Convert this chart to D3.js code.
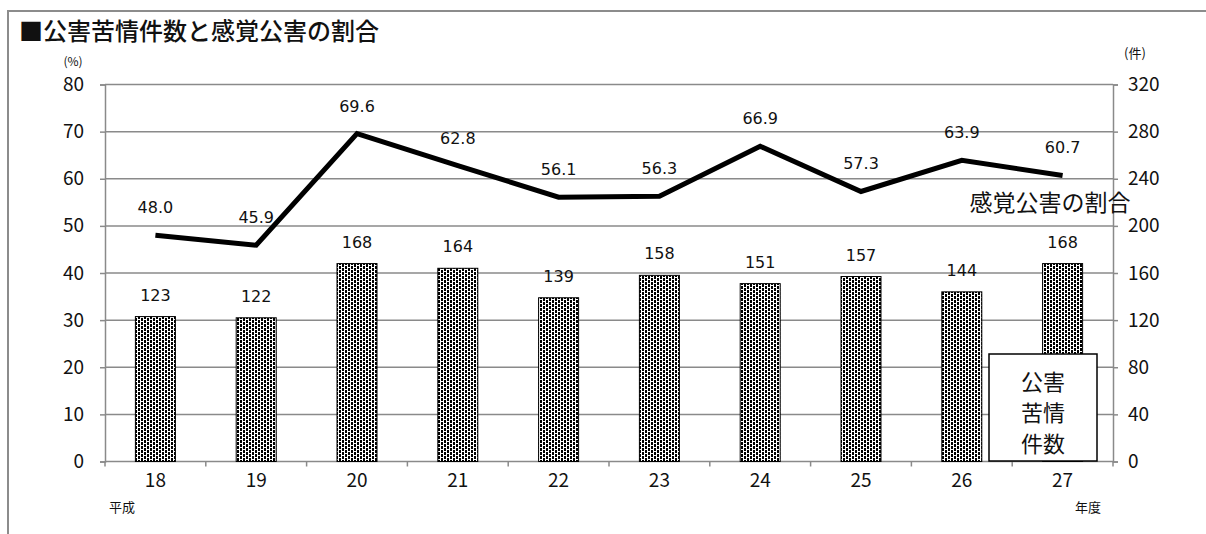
<!DOCTYPE html>
<html lang="ja">
<head>
<meta charset="utf-8">
<script src="https://cdn.jsdelivr.net/npm/d3@7/dist/d3.min.js"></script>
<style>
  html, body { margin: 0; padding: 0; background: #fff; }
  svg { display: block; }
  text { font-family: "Noto Sans CJK JP", "Noto Sans", sans-serif; fill: #111; }
  .num { font-family: "DejaVu Sans", sans-serif; }
</style>
</head>
<body>
<svg id="chart" width="1206" height="534"></svg>
<script>
// 年度（平成）
const years = ["18", "19", "20", "21", "22", "23", "24", "25", "26", "27"];
// 公害苦情件数（件）
const complaints = [123, 122, 168, 164, 139, 158, 151, 157, 144, 168];
// 感覚公害の割合（%）
const sensoryShare = [48.0, 45.9, 69.6, 62.8, 56.1, 56.3, 66.9, 57.3, 63.9, 60.7];
// 軸目盛
const leftTicks = [0, 10, 20, 30, 40, 50, 60, 70, 80];
const rightTicks = [0, 40, 80, 120, 160, 200, 240, 280, 320];

const svg = d3.select("#chart");
const margin = { left: 105, right: 1113, top: 84.5, bottom: 461.5 };
const gridColor = "#8a8a8a";

// outer frame (top and left edges)
svg.append("path")
  .attr("d", "M8,534 V11 H1206")
  .attr("fill", "none")
  .attr("stroke", "#8c8c8c")
  .attr("stroke-width", 2);

// title
svg.append("text")
  .attr("x", 19).attr("y", 40)
  .attr("font-size", 24)
  .attr("font-weight", 500)
  .text("■公害苦情件数と感覚公害の割合");

const x = d3.scaleBand().domain(years).range([margin.left, margin.right]);
const yL = d3.scaleLinear().domain([0, 80]).range([margin.bottom, margin.top]);
const yR = d3.scaleLinear().domain([0, 320]).range([margin.bottom, margin.top]);

// dotted fill for bars: staggered columns of short dashes
const defs = svg.append("defs");
const pat = defs.append("pattern")
  .attr("id", "dots")
  .attr("patternUnits", "userSpaceOnUse")
  .attr("width", 6).attr("height", 4);
pat.append("rect").attr("width", 6).attr("height", 4).attr("fill", "#fff");
pat.append("rect").attr("x", 0).attr("y", 0).attr("width", 2).attr("height", 3).attr("fill", "#000");
pat.append("rect").attr("x", 3).attr("y", 2).attr("width", 2).attr("height", 2).attr("fill", "#000");
pat.append("rect").attr("x", 3).attr("y", 0).attr("width", 2).attr("height", 1).attr("fill", "#000");

// horizontal gridlines
svg.append("g")
  .selectAll("line")
  .data(leftTicks.filter(d => d > 0))
  .join("line")
  .attr("x1", margin.left).attr("x2", margin.right)
  .attr("y1", d => yL(d)).attr("y2", d => yL(d))
  .attr("stroke", gridColor).attr("stroke-width", 1.5);

// left axis
const axL = svg.append("g")
  .attr("transform", `translate(${margin.left},0)`)
  .call(d3.axisLeft(yL).tickValues(leftTicks).tickSize(5).tickPadding(16));
// right axis
const axR = svg.append("g")
  .attr("transform", `translate(${margin.right},0)`)
  .call(d3.axisRight(yR).tickValues(rightTicks).tickSize(5).tickPadding(10));
// bottom axis: ticks on category boundaries
const axB = svg.append("g")
  .attr("transform", `translate(0,${margin.bottom})`)
  .call(d3.axisBottom(x).tickSize(0).tickPadding(12));
axB.append("g")
  .selectAll("line")
  .data(years.map(d => x(d)).concat([margin.right]))
  .join("line")
  .attr("x1", d => d).attr("x2", d => d)
  .attr("y1", 0).attr("y2", 5)
  .attr("stroke", gridColor).attr("stroke-width", 1.5);

[axL, axR, axB].forEach(g => {
  g.select(".domain").attr("stroke", gridColor).attr("stroke-width", 1.5);
  g.selectAll(".tick line").attr("stroke", gridColor).attr("stroke-width", 1.5);
  g.selectAll(".tick text")
    .attr("font-family", "\"DejaVu Sans\", sans-serif")
    .attr("font-size", 19).attr("fill", "#111");
});
axB.select(".domain").attr("d", `M${margin.left},0H${margin.right}`);

// bars
const barW = 40;
svg.append("g")
  .selectAll("rect")
  .data(complaints)
  .join("rect")
  .attr("x", (d, i) => x(years[i]) + x.bandwidth() / 2 - barW / 2)
  .attr("y", d => yR(d))
  .attr("width", barW)
  .attr("height", d => yR(0) - yR(d))
  .attr("fill", "url(#dots)")
  .attr("stroke", "#000").attr("stroke-width", 1);

// bar value labels
svg.append("g")
  .selectAll("text")
  .data(complaints)
  .join("text")
  .attr("class", "num")
  .attr("x", (d, i) => x(years[i]) + x.bandwidth() / 2)
  .attr("y", d => yR(d) - 16)
  .attr("text-anchor", "middle")
  .attr("font-size", 16)
  .text(d => d);

// share line
const line = d3.line()
  .x((d, i) => x(years[i]) + x.bandwidth() / 2)
  .y(d => yL(d));
svg.append("path")
  .datum(sensoryShare)
  .attr("d", line)
  .attr("fill", "none")
  .attr("stroke", "#000")
  .attr("stroke-width", 5)
  .attr("stroke-linejoin", "miter");

// share labels
svg.append("g")
  .selectAll("text")
  .data(sensoryShare)
  .join("text")
  .attr("class", "num")
  .attr("x", (d, i) => x(years[i]) + x.bandwidth() / 2)
  .attr("y", d => yL(d) - 22)
  .attr("text-anchor", "middle")
  .attr("font-size", 16)
  .text(d => d.toFixed(1));

// series label for the line
svg.append("text")
  .attr("x", 1050).attr("y", 211)
  .attr("text-anchor", "middle")
  .attr("font-size", 23)
  .text("感覚公害の割合");

// series label box for the bars
svg.append("rect")
  .attr("x", 989).attr("y", 354)
  .attr("width", 108).attr("height", 107)
  .attr("fill", "#fff")
  .attr("stroke", "#000").attr("stroke-width", 1.5);
["公害", "苦情", "件数"].forEach((t, i) => {
  svg.append("text")
    .attr("x", 1043).attr("y", 390 + i * 31)
    .attr("text-anchor", "middle")
    .attr("font-size", 22)
    .text(t);
});

// unit and era captions
svg.append("text").attr("x", 73).attr("y", 66).attr("text-anchor", "middle")
  .attr("font-size", 12).text("(%)");
svg.append("text").attr("x", 1135).attr("y", 58).attr("text-anchor", "middle")
  .attr("font-size", 13).text("(件)");
svg.append("text").attr("x", 122).attr("y", 512).attr("text-anchor", "middle")
  .attr("font-size", 13).text("平成");
svg.append("text").attr("x", 1088).attr("y", 512).attr("text-anchor", "middle")
  .attr("font-size", 13).text("年度");
</script>
</body>
</html>
